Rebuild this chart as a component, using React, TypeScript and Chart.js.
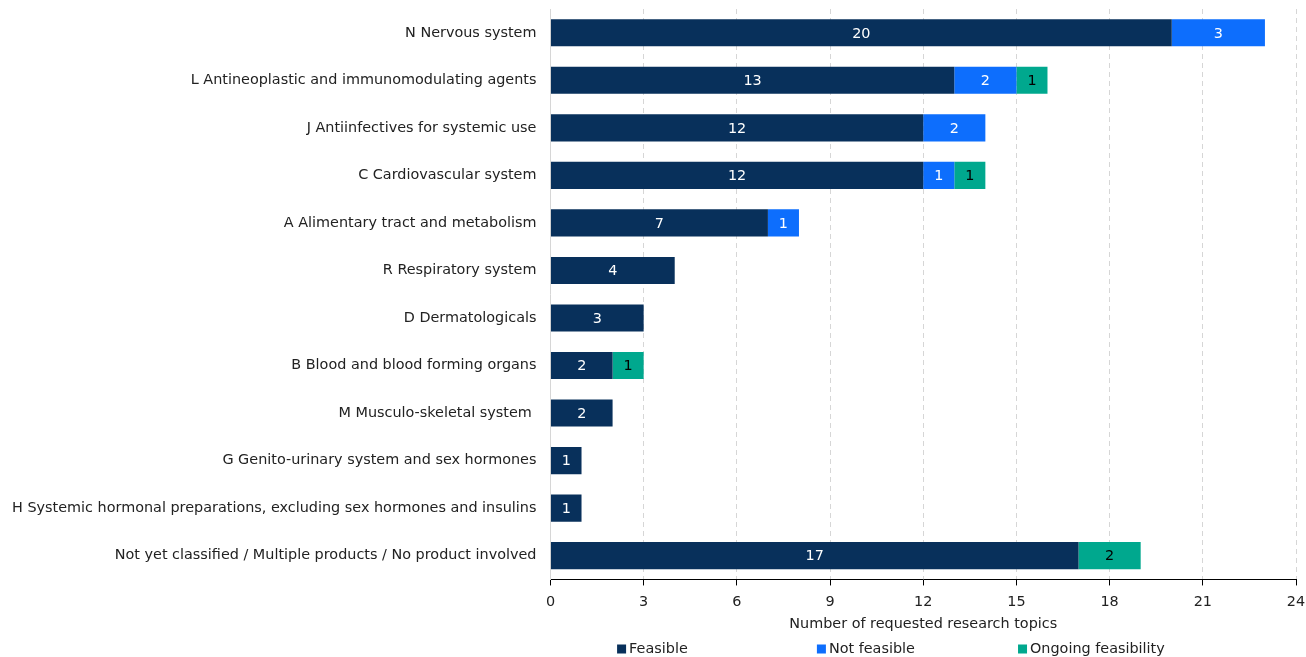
import React, { useEffect, useRef } from "react";
import { Chart, registerables } from "chart.js";

Chart.register(...registerables);

const categories = [
  "N Nervous system",
  "L Antineoplastic and immunomodulating agents",
  "J Antiinfectives for systemic use",
  "C Cardiovascular system",
  "A Alimentary tract and metabolism",
  "R Respiratory system",
  "D Dermatologicals",
  "B Blood and blood forming organs",
  "M Musculo-skeletal system ",
  "G Genito-urinary system and sex hormones",
  "H Systemic hormonal preparations, excluding sex hormones and insulins",
  "Not yet classified / Multiple products / No product involved",
];

const feasible = [20, 13, 12, 12, 7, 4, 3, 2, 2, 1, 1, 17];
const notFeasible = [3, 2, 2, 1, 1, 0, 0, 0, 0, 0, 0, 0];
const ongoing = [0, 1, 0, 1, 0, 0, 0, 1, 0, 0, 0, 2];

const xTicks = [0, 3, 6, 9, 12, 15, 18, 21, 24];

const FONT = "DejaVu Sans, Verdana, sans-serif";
const FS = 14.4;

const labelPlugin = {
  id: "barLabels",
  afterDatasetsDraw(chart: any) {
    const ctx = chart.ctx;
    ctx.save();
    ctx.font = `${FS}px ${FONT}`;
    ctx.textAlign = "center";
    ctx.textBaseline = "middle";
    chart.data.datasets.forEach((ds: any, di: number) => {
      const meta = chart.getDatasetMeta(di);
      meta.data.forEach((bar: any, i: number) => {
        const v = ds.data[i];
        if (!v) return;
        const cx = (bar.x + bar.base) / 2;
        ctx.fillStyle = ds.labelColor;
        ctx.fillText(String(v), cx, bar.y + 1);
      });
    });
    ctx.restore();
  },
};

const legendPlugin = {
  id: "customLegend",
  afterDraw(chart: any) {
    const ctx = chart.ctx;
    const positions = [0.4725, 0.6255, 0.7795];
    const y = chart.height - 8;
    ctx.save();
    ctx.font = `${FS}px ${FONT}`;
    ctx.textBaseline = "middle";
    ctx.textAlign = "left";
    chart.data.datasets.forEach((ds: any, di: number) => {
      const x = chart.width * positions[di];
      ctx.fillStyle = ds.backgroundColor;
      ctx.fillRect(x, y - 4.5, 9, 9);
      ctx.fillStyle = "#222";
      ctx.fillText(ds.label, x + 12, y);
    });
    ctx.restore();
  },
};

export default function App() {
  const ref = useRef<HTMLCanvasElement | null>(null);
  useEffect(() => {
    if (!ref.current) return;
    const chart = new Chart(ref.current, {
      type: "bar",
      data: {
        labels: categories,
        datasets: [
          { label: "Feasible", data: feasible, backgroundColor: "#08305b", labelColor: "#ffffff" } as any,
          { label: "Not feasible", data: notFeasible, backgroundColor: "#0d6efd", labelColor: "#ffffff" } as any,
          { label: "Ongoing feasibility", data: ongoing, backgroundColor: "#00a88e", labelColor: "#000000" } as any,
        ],
      },
      options: {
        indexAxis: "y",
        animation: false,
        responsive: true,
        maintainAspectRatio: false,
        datasets: {
          bar: { barPercentage: 0.57, categoryPercentage: 1.0 },
        },
        layout: { padding: { left: 4, right: 0, top: 9, bottom: 24 } },
        plugins: {
          legend: { display: false },
          tooltip: { enabled: false },
        },
        scales: {
          x: {
            stacked: true,
            min: 0,
            max: 24,
            afterBuildTicks: (axis: any) => {
              axis.ticks = xTicks.map((v) => ({ value: v }));
            },
            afterFit: (s: any) => {
              s.paddingRight = 10;
            },
            ticks: { color: "#222", font: { family: FONT, size: FS }, padding: 8 },
            grid: { color: "#d6d6d6", tickColor: "#000", tickLength: 6, tickBorderDash: [] },
            border: { display: true, color: "#000", width: 1, dash: [5, 4] },
            title: {
              display: true,
              text: "Number of requested research topics",
              color: "#222",
              font: { family: FONT, size: FS },
              padding: { top: -3, bottom: 0 },
            },
          },
          y: {
            stacked: true,
            ticks: { color: "#222", font: { family: FONT, size: FS }, padding: 14 },
            grid: { display: false, drawTicks: false },
            border: { display: true, color: "#d6d6d6", width: 1 },
            afterFit: (s: any) => {
              s.width -= 6;
              s.paddingTop = 0;
              s.paddingBottom = 0;
            },
          },
        },
      },
      plugins: [labelPlugin, legendPlugin],
    });
    return () => chart.destroy();
  }, []);
  return (
    <div style={{ position: "fixed", left: 0, top: 0, width: 1306, height: 657, background: "#fff" }}>
      <canvas ref={ref} />
    </div>
  );
}
